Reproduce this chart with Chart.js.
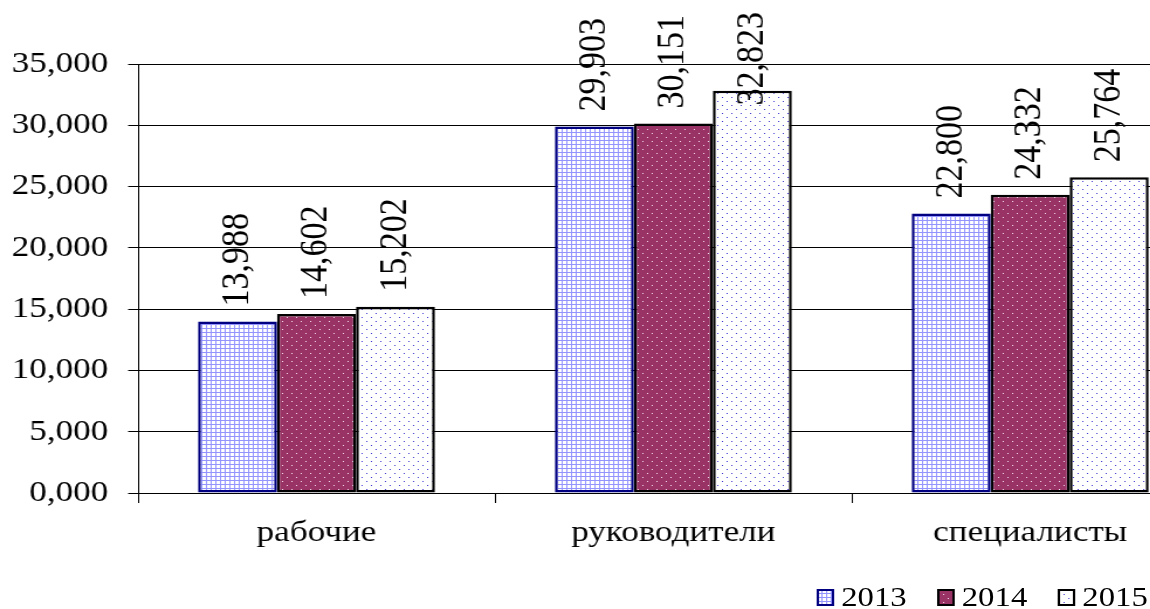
<!DOCTYPE html>
<html lang="ru">
<head>
<meta charset="utf-8">
<title>Диаграмма</title>
<script src="https://cdn.jsdelivr.net/npm/chart.js@4.4.1/dist/chart.umd.min.js"></script>
<style>
    html, body { margin: 0; padding: 0; background: #fff; overflow: hidden; width: 1150px; height: 609px; }
    /* the reference is stretched horizontally, so the whole drawing is too */
    #wrap { position: relative; width: 1040px; height: 609px; transform: scaleX(1.17); transform-origin: 0 0; }
    #legenda { position: absolute; left: 698px; top: 582px; height: 30px; display: flex; align-items: center;
               font-family: "Liberation Serif", "Times New Roman", serif; font-size: 28px; color: #000; }
    #legenda .item { display: flex; align-items: center; margin-right: 26px; }
    #legenda .item:last-child { margin-right: 0; }
    #legenda canvas { display: block; margin-right: 6px; }
</style>
</head>
<body>
<div id="wrap">
    <canvas id="graficoSalarios" width="1040" height="609"></canvas>
    <div id="legenda"></div>
</div>
<script>
// Dados do gráfico
const categorias = ['рабочие', 'руководители', 'специалисты'];
const anos = ['2013', '2014', '2015'];
const valores2013 = [13.988, 29.903, 22.800];
const valores2014 = [14.602, 30.151, 24.332];
const valores2015 = [15.202, 32.823, 25.764];
const ticksY = [0, 5, 10, 15, 20, 25, 30, 35];

const fonteSerif = '"Liberation Serif", "Times New Roman", serif';
const formatar = (v) => v.toFixed(3).replace('.', ',');

document.addEventListener('DOMContentLoaded', function () {
    // Padrões de preenchimento (grade, pontos brancos, pontos azuis)
    const criarPadrao = (tipo) => {
        const c = document.createElement('canvas');
        const ctx = c.getContext('2d');
        if (tipo === 'grade') {
            c.width = 4; c.height = 4;
            ctx.fillStyle = '#ffffff';
            ctx.fillRect(0, 0, 4, 4);
            ctx.fillStyle = '#9494ff';
            ctx.fillRect(0, 0, 4, 1);
            ctx.fillRect(0, 0, 1, 4);
        } else {
            c.width = 8; c.height = 8;
            ctx.fillStyle = tipo === 'pontosBrancos' ? '#993366' : '#ffffff';
            ctx.fillRect(0, 0, 8, 8);
            ctx.fillStyle = tipo === 'pontosBrancos' ? '#f4dce8' : '#3a3ad0';
            ctx.fillRect(1, 1, 1, 1);
            ctx.fillRect(5, 5, 1, 1);
        }
        return ctx.createPattern(c, 'repeat');
    };

    const estilos = [
        { padrao: criarPadrao('grade'), borda: '#000080' },
        { padrao: criarPadrao('pontosBrancos'), borda: '#000000' },
        { padrao: criarPadrao('pontosAzuis'), borda: '#000000' }
    ];
    const series = [valores2013, valores2014, valores2015];

    const datasets = series.map((dados, i) => ({
        label: anos[i],
        data: dados,
        backgroundColor: estilos[i].padrao,
        borderColor: estilos[i].borda,
        borderWidth: 2.5,
        borderSkipped: false,
        categoryPercentage: 0.664,
        barPercentage: 1.0
    }));

    // Rótulos verticais acima das barras (empurrados para baixo se não couberem)
    const rotulosPlugin = {
        id: 'rotulos',
        afterDatasetsDraw(chart) {
            const ctx = chart.ctx;
            ctx.save();
            ctx.font = '34px ' + fonteSerif;
            ctx.fillStyle = '#000';
            ctx.textAlign = 'left';
            ctx.textBaseline = 'middle';
            chart.data.datasets.forEach((ds, i) => {
                chart.getDatasetMeta(i).data.forEach((bar, j) => {
                    const texto = formatar(ds.data[j]);
                    const largura = ctx.measureText(texto).width;
                    let inicio = bar.y - 15;
                    if (inicio - largura < 12) inicio = 12 + largura;
                    ctx.save();
                    ctx.translate(bar.x, inicio);
                    ctx.rotate(-Math.PI / 2);
                    ctx.fillText(texto, 0, 0);
                    ctx.restore();
                });
            });
            ctx.restore();
        }
    };

    const ctxSalarios = document.getElementById('graficoSalarios').getContext('2d');
    new Chart(ctxSalarios, {
        type: 'bar',
        data: { labels: categorias, datasets: datasets },
        options: {
            responsive: false,
            animation: false,
            layout: { padding: { top: 64, right: 7, left: 0, bottom: 0 } },
            scales: {
                x: {
                    grid: { drawOnChartArea: false, drawTicks: true, tickLength: 10, color: '#000', lineWidth: 1 },
                    border: { display: true, color: '#000', width: 1 },
                    ticks: { color: '#000', font: { family: fonteSerif, size: 30 }, padding: 12, maxRotation: 0 },
                    afterFit: (scale) => { scale.height = 116; }
                },
                y: {
                    min: 0,
                    max: 35,
                    afterBuildTicks: (scale) => { scale.ticks = ticksY.map(v => ({ value: v })); },
                    grid: { color: '#000', lineWidth: 1, tickLength: 8.5 },
                    border: { display: true, color: '#000', width: 1 },
                    ticks: { color: '#000', font: { family: fonteSerif, size: 30 }, padding: 17, callback: (v) => formatar(v) },
                    afterFit: (scale) => { scale.width = 118; }
                }
            },
            plugins: { legend: { display: false }, tooltip: { enabled: false } }
        },
        plugins: [rotulosPlugin]
    });

    // Legenda em HTML com as mesmas amostras de padrão
    const legenda = document.getElementById('legenda');
    anos.forEach((ano, i) => {
        const item = document.createElement('div');
        item.className = 'item';
        const amostra = document.createElement('canvas');
        amostra.width = 15; amostra.height = 17;
        const actx = amostra.getContext('2d');
        actx.fillStyle = estilos[i].padrao;
        actx.fillRect(0, 0, 15, 17);
        actx.strokeStyle = estilos[i].borda;
        actx.lineWidth = 2;
        actx.strokeRect(1, 1, 13, 15);
        const texto = document.createElement('span');
        texto.textContent = ano;
        item.appendChild(amostra);
        item.appendChild(texto);
        legenda.appendChild(item);
    });
});
</script>
</body>
</html>
